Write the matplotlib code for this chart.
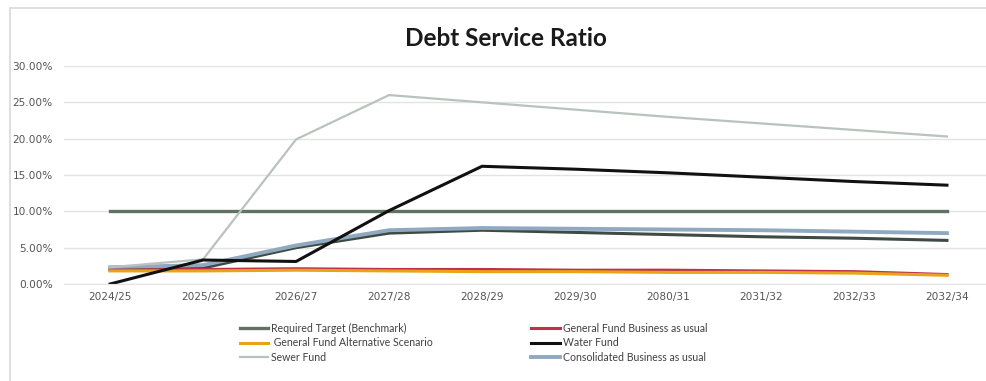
import numpy as np
import matplotlib
matplotlib.use("Agg")
import matplotlib.pyplot as plt
from matplotlib.ticker import PercentFormatter
from matplotlib.patches import Rectangle

plt.rcParams['font.family'] = ['Lato', 'DejaVu Sans']

# data (percent)
years = ["2024/25", "2025/26", "2026/27", "2027/28", "2028/29",
         "2029/30", "2080/31", "2031/32", "2032/33", "2032/34"]
benchmark = [10.0, 10.0, 10.0, 10.0, 10.0, 10.0, 10.0, 10.0, 10.0, 10.0]
gf_bau = [1.9, 2.0, 2.1, 2.0, 2.0, 1.9, 1.9, 1.8, 1.7, 1.3]
gf_alt = [1.8, 1.8, 1.9, 1.8, 1.7, 1.7, 1.6, 1.6, 1.5, 1.2]
water = [0.0, 3.3, 3.1, 10.1, 16.2, 15.8, 15.3, 14.7, 14.1, 13.6]
sewer = [2.3, 3.4, 19.9, 26.0, 25.0, 24.0, 23.0, 22.1, 21.2, 20.3]
consolidated = [2.3, 2.6, 5.3, 7.4, 7.7, 7.6, 7.5, 7.4, 7.2, 7.0]
consolidated_alt = [2.0, 2.2, 5.0, 7.0, 7.4, 7.1, 6.8, 6.5, 6.3, 6.0]

x = np.arange(len(years))

fig = plt.figure(figsize=(9.86, 3.81), dpi=100)
ax = fig.add_axes([64/986, 97/381, 922/986, 218/381])

# outer chart frame
fig.patches.append(Rectangle((10/986, -0.1), 1.2, (373 + 38)/381, transform=fig.transFigure,
                             fill=False, edgecolor='#d9d9d9', linewidth=1.2))

ax.plot(x, consolidated_alt, color='#3e4a42', lw=2.2)
ax.plot(x, consolidated, color='#8faac0', lw=2.8, label='Consolidated Business as usual')
ax.plot(x, gf_bau, color='#c0304a', lw=2.2, label='General Fund Business as usual')
ax.plot(x, gf_alt, color='#e8a317', lw=2.2, label=' General Fund Alternative Scenario')
ax.plot(x, benchmark, color='#5f7263', lw=2.4, label='Required Target (Benchmark)')
ax.plot(x, sewer, color='#b9c3bd', lw=1.6, label='Sewer Fund')
ax.plot(x, water, color='#111111', lw=2.2, label='Water Fund')

ax.set_xlim(-0.496, 9.42)
ax.set_ylim(0, 30)
ax.set_yticks(np.arange(0, 31, 5))
ax.yaxis.set_major_formatter(PercentFormatter(decimals=2))
ax.set_xticks(x)
ax.set_xticklabels(years)
ax.tick_params(length=0, labelsize=7.6, colors='#555555')
ax.tick_params(axis='y', pad=8)
ax.tick_params(axis='x', pad=6)
for lab in ax.get_xticklabels() + ax.get_yticklabels():
    lab.set_family('DejaVu Sans')
ax.grid(axis='y', color='#e3e3e3', lw=1)
ax.set_axisbelow(True)
for s in ['top', 'right', 'left']:
    ax.spines[s].set_visible(False)
ax.spines['bottom'].set_color('#e3e3e3')

fig.text(506/986, 1 - 39/381, 'Debt Service Ratio', ha='center', va='center',
         fontsize=17.5, fontweight='bold', color='#1a1a1a')

h = {l.get_label(): l for l in ax.get_lines()}
order = ['Required Target (Benchmark)', ' General Fund Alternative Scenario', 'Sewer Fund',
         'General Fund Business as usual', 'Water Fund', 'Consolidated Business as usual']
fig.legend([h[k] for k in order], order, ncol=2, frameon=False, fontsize=7.6,
           loc='upper left', bbox_to_anchor=(230/986, 1 - 313/381),
           handlelength=2.7, handletextpad=0.3, columnspacing=9.3,
           labelspacing=0.36, labelcolor='#404040')

fig.savefig('out.png', dpi=100)
